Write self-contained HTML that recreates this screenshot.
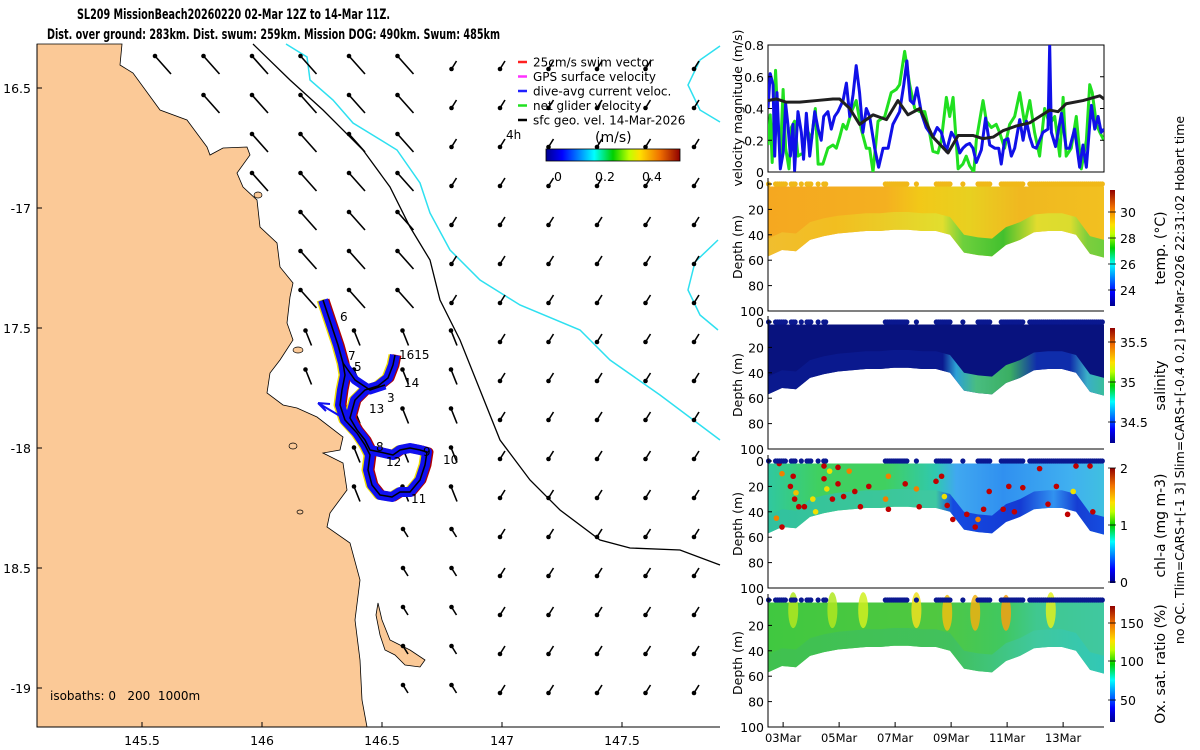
<!DOCTYPE html>
<html><head><meta charset="utf-8">
<style>
html,body{margin:0;padding:0;background:#fff;}
svg{display:block;font-family:"DejaVu Sans","Liberation Sans",sans-serif;}
text{white-space:pre;}
</style></head>
<body>
<svg id="fig" width="1200" height="750" viewBox="0 0 1200 750" xmlns="http://www.w3.org/2000/svg">
<defs>
<linearGradient id="jet" x1="0" y1="0" x2="1" y2="0">
<stop offset="0" stop-color="#00008f"/><stop offset="0.12" stop-color="#0000ff"/><stop offset="0.36" stop-color="#00ffff"/><stop offset="0.5" stop-color="#00d000"/><stop offset="0.62" stop-color="#c0ff00"/><stop offset="0.7" stop-color="#ffe000"/><stop offset="0.85" stop-color="#f07000"/><stop offset="1" stop-color="#900000"/>
</linearGradient>
<linearGradient id="jetv" x1="0" y1="1" x2="0" y2="0">
<stop offset="0" stop-color="#00008f"/><stop offset="0.12" stop-color="#0000ff"/><stop offset="0.36" stop-color="#00ffff"/><stop offset="0.5" stop-color="#00d000"/><stop offset="0.62" stop-color="#c0ff00"/><stop offset="0.7" stop-color="#ffe000"/><stop offset="0.85" stop-color="#f07000"/><stop offset="1" stop-color="#900000"/>
</linearGradient>
</defs>
<text x="77" y="19" font-size="14" font-weight="bold" textLength="313" lengthAdjust="spacingAndGlyphs">SL209 MissionBeach20260220 02-Mar 12Z to 14-Mar 11Z.</text>
<text x="47" y="39" font-size="14" font-weight="bold" textLength="453" lengthAdjust="spacingAndGlyphs">Dist. over ground: 283km. Dist. swum: 259km. Mission DOG: 490km. Swum: 485km</text>
<g id="map"></g>
<g id="right"></g>
<text transform="translate(1184,380) rotate(-90)" font-size="12.5" text-anchor="middle">no QC. Tlim=CARS+[-1 3] Slim=CARS+[-0.4 0.2] 19-Mar-2026 22:31:02 Hobart time</text>
</svg>
<script>
const NS="http://www.w3.org/2000/svg";
function mk(tag,attrs,parent){const e=document.createElementNS(NS,tag);for(const k in attrs)e.setAttribute(k,attrs[k]);parent.appendChild(e);return e;}
const map=document.getElementById('map');
const right=document.getElementById('right');

// ---------- MAP ----------
const lonTicks=[145.5,146,146.5,147,147.5];
const latTicks=[-16.5,-17,-17.5,-18,-18.5,-19];
const latLabels=["16.5","-17","17.5","-18","18.5","-19"];
function mx(lon){return 262+(lon-146)*240;}
function my(lat){return 208-(lat+17)*240;}
const coast=[[122,44],[120,65],[133,73],[160,110],[187,120],[207,147],[210,155],[223,148],[247,147],[250,155],[237,173],[243,187],[257,200],[260,227],[277,243],[280,267],[293,283],[290,297],[287,323],[293,340],[280,360],[270,373],[267,393],[283,405],[297,408],[317,417],[343,437],[340,450],[323,453],[343,463],[347,490],[330,513],[327,527],[350,543],[360,580],[355,620],[360,660],[362,700],[367,727]];
const island=[[378,603],[382,620],[390,640],[400,645],[410,650],[425,660],[420,667],[405,665],[395,655],[385,650],[380,635],[376,615]];
let land=mk('polygon',{points:"37,44 "+coast.map(p=>p.join(',')).join(' ')+" 37,727",fill:"#fbc997",stroke:"#000","stroke-width":"0.8"},map);


let isl=mk('polygon',{points:island.map(p=>p.join(',')).join(' '),fill:"#fbc997",stroke:"#000","stroke-width":"0.8"},map);


[[298,350,5,3],[293,446,4,3],[258,195,4,3],[300,512,3,2]].forEach(a=>{const e=mk('ellipse',{cx:a[0],cy:a[1],rx:a[2],ry:a[3],fill:"#fbc997",stroke:"#000","stroke-width":"0.7"},map);});
const iso200=[[253,44],[290,80],[323,110],[363,150],[390,187],[410,227],[430,260],[440,300],[460,340],[480,390],[500,440],[530,480],[560,510],[600,540],[630,548],[680,550],[720,565]];
const iso1000=[[286,44],[307,57],[310,80],[333,100],[353,123],[397,150],[420,183],[430,213],[450,250],[480,280],[520,305],[580,330],[610,360],[660,395],[700,425],[720,440]];
const iso1000b=[[720,46],[700,60],[688,85],[700,110],[720,122]];
const iso1000c=[[718,240],[695,262],[688,290],[700,315],[718,330]];
let l=mk('polyline',{points:iso200.map(p=>p.join(',')).join(' '),fill:"none",stroke:"#000","stroke-width":"1.3"},map);


[iso1000,iso1000b,iso1000c].forEach(a=>{const e=mk('polyline',{points:a.map(p=>p.join(',')).join(' '),fill:"none",stroke:"#2ee0f0","stroke-width":"1.5"},map);});
function coastXAt(y){for(let i=0;i<coast.length-1;i++){const a=coast[i],b=coast[i+1];if(y>=Math.min(a[1],b[1])&&y<=Math.max(a[1],b[1])){return Math.max(a[0],b[0]);}}return 370;}
for(let i=0;i<12;i++){for(let j=0;j<17;j++){
 const x=163+48.5*i,y=65+39*j;
 if(x<coastXAt(y)+8)continue;
 let dx,dy;
 if(x>470||(y<300&&x>420)){dx=-5;dy=8;}
 else if(y<330){dx=-16;dy=-18;}
 else if(y<520){dx=-6;dy=-15;}
 else {dx=-5;dy=-8;}
 const a=mk('line',{x1:x-dx/2,y1:y-dy/2,x2:x+dx/2,y2:y+dy/2,stroke:"#000","stroke-width":"1.6"},map);
 
 
 const h=mk('circle',{cx:x+dx/2,cy:y+dy/2,r:2.3,fill:"#000"},map);
 
 
}}
const track=[[323,300],[328,315],[333,330],[338,345],[343,363],[345,375],[342,390],[340,405],[345,420],[357,433],[365,445],[370,455],[368,470],[372,485],[380,495],[392,497],[400,492],[410,492],[420,480],[425,465],[427,452],[420,450],[410,448],[400,450],[393,455],[380,452],[370,450],[365,440],[357,430],[350,418],[355,400],[365,390],[378,386],[388,378],[393,365],[395,355]];
const branch=[[343,363],[355,380],[370,390],[385,385]];
const tp=track.map(p=>p.join(',')).join(' '),bp=branch.map(p=>p.join(',')).join(' ');
[[tp,"#b00000",9,2],[tp,"#f0e000",9,-2],[tp,"#1010f0",10,0],[bp,"#1010f0",9,0],[tp,"#000",1.5,0],[bp,"#000",1.5,0]].forEach(s=>{const e=mk('polyline',{points:s[0],fill:"none",stroke:s[1],"stroke-width":s[2],"stroke-linejoin":"round",transform:"translate("+s[3]+",0)"},map);});
let ba=mk('path',{d:"M340,416 L318,403 M318,403 L330,404 M318,403 L326,411",stroke:"#1010f0","stroke-width":"2",fill:"none"},map);


const wpLabels=[["6",340,321],["7",348,360],["5",354,371],["1615",399,359],["14",404,387],["3",387,402],["13",369,413],["8",376,451],["9",423,456],["12",386,466],["10",443,464],["11",411,503]];
wpLabels.forEach(w=>{const t=mk('text',{x:w[1],y:w[2],"font-size":"12"},map);t.textContent=w[0];});
let ax=mk('path',{d:"M37,44 V727 H720",stroke:"#000","stroke-width":"1",fill:"none"},map);


lonTicks.forEach(v=>{mk('line',{x1:mx(v),y1:727,x2:mx(v),y2:722,stroke:"#000"},map);const t=mk('text',{x:mx(v),y:745,"font-size":"12.5","text-anchor":"middle"},map);t.textContent=v;});
latTicks.forEach((v,i)=>{mk('line',{x1:37,y1:my(v),x2:42,y2:my(v),stroke:"#000"},map);const t=mk('text',{x:31,y:my(v)+5,"font-size":"12.5","text-anchor":"end"},map);t.textContent=latLabels[i];});
let iso=mk('text',{x:50,y:700,"font-size":"12"},map);iso.textContent="isobaths: 0   200  1000m";


const legItems=[["25cm/s swim vector","#ff2020"],["GPS surface velocity","#ff30ff"],["dive-avg current veloc.","#2020ff"],["net glider velocity","#20e020"],["sfc geo. vel. 14-Mar-2026","#000"]];
legItems.forEach((it,i)=>{const y=62+14.5*i;const ln=mk('line',{x1:518,y1:y,x2:527,y2:y,stroke:it[1],"stroke-width":"2.5"},map);const t=mk('text',{x:533,y:y+4.5,"font-size":"12"},map);t.textContent=it[0];});
let h4=mk('text',{x:506,y:139,"font-size":"12"},map);h4.textContent="4h";
let ms=mk('text',{x:595,y:142,"font-size":"14"},map);ms.textContent="(m/s)";
let cb=mk('rect',{x:546,y:149,width:134,height:12,fill:"url(#jet)",stroke:"#000","stroke-width":"0.8"},map);
[["0",558],["0.2",605],["0.4",652]].forEach(c=>{const t=mk('text',{x:c[1],y:181,"font-size":"12.5","text-anchor":"middle"},map);t.textContent=c[0];});

// ---------- RIGHT PANELS ----------
const X0=768,X1=1104,PXD=28;
function xt(d){return X0+d*PXD;}
const dateTicks=["03Mar","05Mar","07Mar","09Mar","11Mar","13Mar"];
const dateTickDays=[0.54,2.54,4.54,6.54,8.54,10.54];
const velTicks=[0,0.2,0.4,0.6,0.8];
const blackT=[0,0.30,0.65,1.13,1.73,2.32,2.56,2.92,3.27,3.75,4.23,4.64,5.0,5.42,5.89,6.43,6.79,7.32,7.68,8.04,8.39,8.87,9.35,10.06,10.36,10.65,11.25,11.85,12.0];
const blackV=[0.45,0.46,0.44,0.44,0.45,0.46,0.46,0.40,0.30,0.36,0.33,0.45,0.36,0.40,0.22,0.12,0.23,0.23,0.21,0.22,0.26,0.29,0.31,0.39,0.38,0.43,0.45,0.48,0.46];
const blueT=[0,.08,.18,.24,.32,.44,.54,.63,.71,.80,.89,.95,1.07,1.19,1.27,1.37,1.49,1.67,1.79,1.90,1.99,2.14,2.26,2.38,2.50,2.68,2.80,2.92,3.04,3.15,3.27,3.39,3.51,3.63,3.81,3.95,4.11,4.29,4.46,4.70,4.85,4.96,5.08,5.20,5.32,5.48,5.65,5.89,6.04,6.19,6.37,6.55,6.73,6.85,6.96,7.08,7.20,7.32,7.44,7.62,7.77,7.92,8.10,8.24,8.33,8.45,8.57,8.69,8.81,8.99,9.11,9.23,9.35,9.46,9.58,9.82,10.0,10.06,10.12,10.27,10.48,10.65,10.77,10.95,11.13,11.25,11.37,11.49,11.55,11.67,11.79,11.90,12.0];
const blueV=[0.40,0.62,0.55,0.10,0.50,0.02,0.12,0.43,0.30,0.10,0.30,0.01,0.38,0.25,0.08,0.37,0.10,0.38,0.27,0.20,0.35,0.38,0.27,0.35,0.38,0.45,0.56,0.35,0.49,0.67,0.50,0.25,0.40,0.35,0.15,0.03,0.15,0.15,0.30,0.38,0.55,0.70,0.45,0.43,0.53,0.37,0.28,0.22,0.28,0.25,0.13,0.25,0.20,0.12,0.15,0.17,0.18,0.15,0.06,0.14,0.34,0.17,0.15,0.15,0.05,0.20,0.21,0.10,0.15,0.33,0.20,0.32,0.22,0.16,0.15,0.25,0.27,0.80,0.25,0.16,0.37,0.15,0.15,0.27,0.03,0.17,0.03,0.30,0.42,0.27,0.35,0.25,0.27];
const greenT=[0,.08,.15,.27,.36,.44,.54,.63,.75,.83,.95,1.07,1.25,1.37,1.55,1.69,1.79,1.96,2.14,2.32,2.44,2.56,2.68,2.80,2.98,3.15,3.33,3.51,3.63,3.75,3.93,4.17,4.40,4.58,4.70,4.88,5.06,5.24,5.42,5.60,5.77,5.89,6.07,6.19,6.37,6.49,6.61,6.79,6.96,7.08,7.20,7.35,7.44,7.68,7.80,7.98,8.15,8.27,8.45,8.63,8.81,8.99,9.17,9.35,9.52,9.70,9.88,10.06,10.24,10.42,10.54,10.65,10.83,11.01,11.19,11.37,11.49,11.58,11.73,11.85,12.0];
const greenV=[0.17,0.36,0.06,0.64,0.30,0.10,0.52,0.15,0.02,0.28,0.32,0.10,0.12,0.28,0.20,0.40,0.05,0.05,0.15,0.17,0.15,0.22,0.30,0.27,0.38,0.45,0.27,0.15,0.15,0.00,0.32,0.35,0.50,0.52,0.55,0.76,0.55,0.40,0.38,0.38,0.25,0.13,0.12,0.20,0.47,0.35,0.47,0.02,0.05,0.10,0.04,0.00,0.20,0.45,0.32,0.28,0.30,0.25,0.15,0.30,0.35,0.50,0.30,0.45,0.25,0.10,0.40,0.30,0.35,0.10,0.47,0.10,0.15,0.35,0.02,0.20,0.55,0.50,0.30,0.25,0.20];
const VT=45,VB=172;
function vy(v){return VB-v*(VB-VT)/0.8;}
let vclip=mk('clipPath',{id:"vclip"},right);mk('rect',{x:X0,y:VT,width:X1-X0,height:VB-VT},vclip);
let vbox=mk('rect',{x:X0,y:VT,width:X1-X0,height:VB-VT,fill:"none",stroke:"#000","stroke-width":"1"},right);

[[greenT,greenV,"#20e020","net-glider-velocity-line"],[blueT,blueV,"#1010e8","dive-avg-current-line"],[blackT,blackV,"#202020","surface-geostrophic-line"]].forEach(s=>{
 const e=mk('polyline',{points:s[0].map((t,i)=>xt(t)+","+vy(s[1][i])).join(' '),fill:"none",stroke:s[2],"stroke-width":"3","stroke-linejoin":"round","clip-path":"url(#vclip)"},right);
 
 
});
velTicks.forEach(v=>{mk('line',{x1:X0,y1:vy(v),x2:X0+4,y2:vy(v),stroke:"#000"},right);mk('line',{x1:X1,y1:vy(v),x2:X1-4,y2:vy(v),stroke:"#000"},right);const t=mk('text',{x:X0-4,y:vy(v)+5,"font-size":"12.5","text-anchor":"end"},right);t.textContent=v;});
let vl=mk('text',{transform:"translate(742,108) rotate(-90)","font-size":"12.5","text-anchor":"middle"},right);vl.textContent="velocity magnitude (m/s)";

const bottomDays=[0,0.5,1,1.5,2,2.5,3,3.5,4,4.5,5,5.5,6,6.5,7,7.5,8,8.5,9,9.5,10,10.5,11,11.5,12];
const bottomDepth=[57,52,53,44,41,39,38,37,37,36,36,37,37,40,54,56,57,48,44,38,37,37,40,55,58];
const surfSpans=[[0.02,0.04],[0.27,0.68],[0.83,1.01],[1.19,1.21],[1.39,1.58],[1.79,1.81],[1.99,2.08],[4.19,5.0],[5.30,5.32],[6.01,6.55],[6.96,6.98],[7.5,7.98],[8.33,9.11],[9.35,12.0]];
const depthTicks=[0,20,40,60,80,100];
const chlDots=[[0.4,2,"#c00000"],[0.5,10,"#f08000"],[0.8,20,"#c00000"],[0.9,12,"#c00000"],[0.95,30,"#c00000"],[1.0,25,"#f0c000"],[1.1,36,"#c00000"],[0.3,45,"#f08000"],[0.5,52,"#c00000"],[1.3,36,"#c00000"],[1.6,30,"#f0e000"],[2.0,4,"#c00000"],[2.0,14,"#c00000"],[2.1,22,"#f0e000"],[2.3,30,"#c00000"],[2.5,5,"#c00000"],[2.5,18,"#c00000"],[2.7,28,"#c00000"],[2.9,8,"#f08000"],[3.1,24,"#c00000"],[3.3,36,"#c00000"],[3.6,20,"#c00000"],[4.2,30,"#f08000"],[4.3,38,"#c00000"],[4.3,12,"#f08000"],[4.9,18,"#c00000"],[5.3,22,"#f08000"],[5.4,36,"#c00000"],[6.0,16,"#c00000"],[6.2,12,"#c00000"],[6.3,28,"#f0e000"],[6.4,35,"#c00000"],[6.6,46,"#c00000"],[7.1,42,"#c00000"],[7.4,52,"#c00000"],[7.5,46,"#f08000"],[7.7,38,"#c00000"],[7.9,24,"#c00000"],[8.4,38,"#c00000"],[8.6,20,"#c00000"],[8.8,40,"#c00000"],[9.1,21,"#c00000"],[9.7,6,"#c00000"],[10.0,34,"#c00000"],[10.3,20,"#c00000"],[10.7,42,"#c00000"],[11.0,4,"#c00000"],[11.6,40,"#c00000"],[11.5,4,"#c00000"],[10.9,24,"#f0e000"],[2.2,8,"#f0e000"],[1.7,40,"#f0e000"]];
const panels=[
 {top:184,name:"temperature",base:[[0,"#f5a820"],[0.35,"#f4b020"],[0.45,"#f2c818"],[0.6,"#e8d020"],[0.75,"#f0b820"],[1,"#f2c020"]],
  deep:[[0,"#f0c030"],[0.2,"#f2c020"],[0.52,"#e0e030"],[0.58,"#60d040"],[0.7,"#30c030"],[0.8,"#e0e030"],[0.9,"#d8e030"],[0.95,"#70d040"],[1,"#60d040"]],dot:"#f0b818",
  cb:[190,306],ticks:[[30,212],[28,238],[26,264],[24,290]],label:"temp. (°C)"},
 {top:322,name:"salinity",base:[[0,"#08127e"],[1,"#08127e"]],
  deep:[[0,"#0a1a90"],[0.52,"#0a1a90"],[0.56,"#30b0e0"],[0.62,"#50d080"],[0.72,"#40c060"],[0.8,"#1030b0"],[0.9,"#1030b0"],[0.95,"#40c0d0"],[1,"#40d0a0"]],dot:"#0a1890",
  cb:[328,443],ticks:[[35.5,342],[35,382],[34.5,422]],label:"salinity"},
 {top:461,name:"chlorophyll",base:[[0,"#30c8a0"],[0.15,"#40d060"],[0.35,"#40d060"],[0.5,"#30c8b0"],[0.56,"#40a8f0"],[0.7,"#3090f0"],[0.9,"#40b0f0"],[1,"#40c0e0"]],
  deep:[[0,"#30c0a0"],[0.5,"#40c8a0"],[0.55,"#1040e0"],[0.75,"#1030d0"],[0.85,"#3090f0"],[0.92,"#1030d0"],[1,"#1040e0"]],dot:"#0a1890",
  cb:[468,583],ticks:[[2,468],[1,525],[0,582]],label:"chl-a (mg m-3)"},
 {top:600,name:"oxygen",base:[[0,"#40c840"],[0.5,"#50c840"],[0.7,"#40c860"],[0.8,"#40c890"],[1,"#40c8a0"]],
  deep:[[0,"#40c050"],[0.55,"#40c060"],[0.8,"#40c8a0"],[1,"#30c8b8"]],dot:"#0a1890",
  cb:[606,722],ticks:[[150,623],[100,661],[50,700]],label:"Ox. sat. ratio (%)"}
];
const oxBlobs=[[0.9,8,"#b0e820"],[2.3,8,"#b0e820"],[3.4,8,"#d0f020"],[5.3,8,"#f0e020"],[6.4,10,"#f0c010"],[7.4,10,"#f0b010"],[8.5,10,"#f8a010"],[10.1,8,"#e0f020"]];
panels.forEach((p,pi)=>{
 const dy=d=>p.top+d*1.27;
 const g=mk('g',{},right);
 
 
 const gid="g"+pi,gd="d"+pi;
 const lg=mk('linearGradient',{id:gid,x1:"0",y1:"0",x2:"1",y2:"0"},g);p.base.forEach(s=>mk('stop',{offset:s[0],"stop-color":s[1]},lg));
 const lg2=mk('linearGradient',{id:gd,x1:"0",y1:"0",x2:"1",y2:"0"},g);p.deep.forEach(s=>mk('stop',{offset:s[0],"stop-color":s[1]},lg2));
 const botPts=bottomDays.map((t,i)=>xt(t)+","+dy(bottomDepth[i])).reverse().join(' ');
 const poly=mk('polygon',{points:xt(0)+","+dy(2)+" "+xt(12)+","+dy(2)+" "+botPts,fill:"url(#"+gid+")"},g);
 
 
 const midPts=bottomDays.map((t,i)=>xt(t)+","+dy(Math.max(2,bottomDepth[i]-14))).join(' ');
 const deep=mk('polygon',{points:midPts+" "+botPts,fill:"url(#"+gd+")",opacity:"0.9"},g);
 
 
 if(p.name==="oxygen"){oxBlobs.forEach(b=>{const e=mk('ellipse',{cx:xt(b[0]),cy:dy(b[1]),rx:5,ry:18,fill:b[2],opacity:"0.85"},g);});}
 if(p.name==="chlorophyll"){chlDots.forEach(c=>{const e=mk('circle',{cx:xt(c[0]),cy:dy(c[1]),r:2.8,fill:c[2]},g);});}
 surfSpans.forEach(s=>{for(let t=s[0];t<=s[1]+1e-6;t+=0.07){const e=mk('circle',{cx:xt(t),cy:dy(0),r:2.6,fill:p.dot},g);}});
 const axp=mk('path',{d:"M"+X0+","+(p.top-6)+" V"+dy(100)+" H"+X1,fill:"none",stroke:"#000","stroke-width":"1"},g);
 
 
 depthTicks.forEach(d=>{mk('line',{x1:X0,y1:dy(d),x2:X0+4,y2:dy(d),stroke:"#000"},g);const t=mk('text',{x:X0-4,y:dy(d)+5,"font-size":"12.5","text-anchor":"end"},g);t.textContent=d;});
 const yl=mk('text',{transform:"translate(742,"+(p.top+63)+") rotate(-90)","font-size":"12.5","text-anchor":"middle"},g);yl.textContent="Depth (m)";
 
 
 const cbr=mk('rect',{x:1110,y:p.cb[0],width:5,height:p.cb[1]-p.cb[0],fill:"url(#jetv)"},g);
 
 
 p.ticks.forEach(tk=>{mk('line',{x1:1108,y1:tk[1],x2:1116,y2:tk[1],stroke:"#000","stroke-width":"0.8"},g);const t=mk('text',{x:1120,y:tk[1]+5,"font-size":"12.5"},g);t.textContent=tk[0];});
 const cl=mk('text',{transform:"translate(1165,"+((p.cb[0]+p.cb[1])/2)+") rotate(-90)","font-size":"14","text-anchor":"middle"},g);cl.textContent=p.label;
 
 
});
dateTicks.forEach((d,i)=>{const x=xt(dateTickDays[i]);mk('line',{x1:x,y1:727,x2:x,y2:722,stroke:"#000"},right);const t=mk('text',{x:x,y:742,"font-size":"11.5","text-anchor":"middle"},right);t.textContent=d;});
</script>
</body></html>
